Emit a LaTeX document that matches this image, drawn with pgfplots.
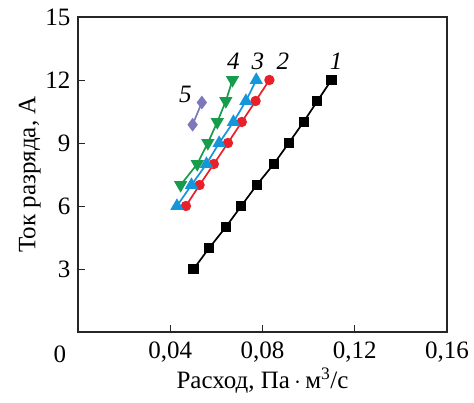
\documentclass[border=0pt]{standalone}
\usepackage{pgfplots}
\pgfplotsset{compat=1.18}
\usepackage{fontspec}
\setmainfont{Liberation Serif}
\definecolor{cred}{RGB}{232,32,42}
\definecolor{cblue}{RGB}{22,150,218}
\definecolor{cgreen}{RGB}{22,156,76}
\definecolor{cpurple}{RGB}{124,120,186}
\newcommand{\bigf}{\fontsize{25}{27}\selectfont}
\begin{document}
\begin{tikzpicture}
\path[use as bounding box] (-78pt,-71pt) rectangle (396pt,332pt);
\begin{axis}[
  scale only axis, width=369pt, height=315pt,
  xmin=0, xmax=0.16, ymin=0, ymax=15,
  axis line style={line width=1.1pt, black!85},
  /pgf/number format/assume math mode=true,
  xtick={0.04,0.08,0.12,0.16},
  xticklabels={\textrm{0,04},\textrm{0,08},\textrm{0,12},\textrm{0,16}},
  ytick={3,6,9,12,15},
  yticklabels={\textrm{3},\textrm{6},\textrm{9},\textrm{12},\textrm{15}},
  tick align=inside, major tick length=7pt,
  tick style={line width=0.9pt, black!85},
  xtick pos=bottom, ytick pos=left,
  ticklabel style={font=\bigf},
  xticklabel style={yshift=-6pt},
  yticklabel style={xshift=-4pt},
  label style={font=\bigf},
  xlabel={Расход, Па\,$\cdot$\,м\textsuperscript{3}/с},
  ylabel={Ток разряда, А},
  xlabel style={yshift=1pt},
  ylabel style={yshift=-2pt},
  clip=false,
  every axis plot/.append style={line width=1.7pt},
]
\addplot[black, mark=square*, mark size=4.2pt] coordinates {
(0.0501,3) (0.0569,4) (0.0641,5) (0.0708,6) (0.0775,7) (0.0849,8) (0.0914,9) (0.0978,10) (0.1038,11) (0.1099,12)};
\addplot[cred, mark=*, mark size=4.3pt] coordinates {
(0.0468,6) (0.0527,7) (0.0589,8) (0.0650,9) (0.0710,10) (0.0770,11) (0.0830,12)};
\addplot[cblue, mark=triangle*, mark size=6pt] coordinates {
(0.0429,6) (0.0492,7) (0.0557,8) (0.0612,9) (0.0674,10) (0.0728,11) (0.0773,12)};
\addplot[cgreen, mark=triangle*, mark size=6pt, mark options={rotate=180}] coordinates {
(0.0445,7) (0.0517,8) (0.0563,9) (0.0604,10) (0.0641,11) (0.0670,12)};
\addplot[cpurple, mark=diamond*, mark size=5.5pt] coordinates {
(0.0497,9.87) (0.0537,10.93)};
\node[font=\bigf\itshape] at (axis cs:0.1119,12.9) {1};
\node[font=\bigf\itshape] at (axis cs:0.0888,12.9) {2};
\node[font=\bigf\itshape] at (axis cs:0.0780,12.9) {3};
\node[font=\bigf\itshape] at (axis cs:0.0674,12.9) {4};
\node[font=\bigf\itshape] at (axis cs:0.0466,11.3) {5};
\node[font=\bigf] at (-18pt,-22pt) {0};
\end{axis}
\end{tikzpicture}
\end{document}
